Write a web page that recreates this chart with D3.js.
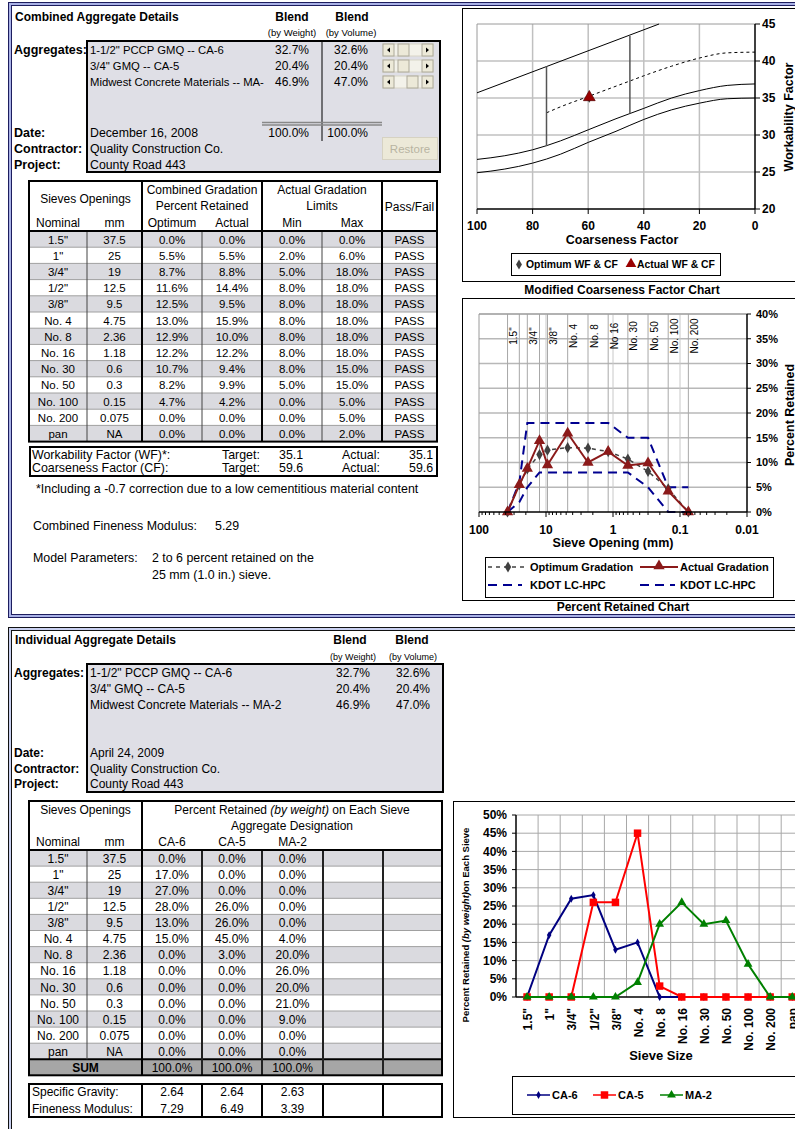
<!DOCTYPE html>
<html><head><meta charset="utf-8">
<script src="https://cdn.jsdelivr.net/npm/d3@7"></script>
<style>body{margin:0;background:#fff}svg{display:block}text{font-family:"Liberation Sans",Arial,sans-serif}</style>
</head><body><svg id="c" width="795" height="1129"></svg>
<script>
// ---------------- DATA ----------------
const aggregateNamesTop = ['1-1/2" PCCP GMQ -- CA-6','3/4" GMQ -- CA-5','Midwest Concrete Materials -- MA-'];
const aggregateNames = ['1-1/2" PCCP GMQ -- CA-6','3/4" GMQ -- CA-5','Midwest Concrete Materials -- MA-2'];
const blendByWeight = [32.7, 20.4, 46.9];
const blendByVolume = [32.6, 20.4, 47.0];
const blendTotals = [100.0, 100.0];
const scrollThumbs = [398, 398, 407];
const headerTop = {date:'December 16, 2008', contractor:'Quality Construction Co.', project:'County Road 443'};
const headerBottom = {date:'April 24, 2009', contractor:'Quality Construction Co.', project:'County Road 443'};

const sieveNominal = ['1.5"','1"','3/4"','1/2"','3/8"','No. 4','No. 8','No. 16','No. 30','No. 50','No. 100','No. 200','pan'];
const sieveMM = ['37.5','25','19','12.5','9.5','4.75','2.36','1.18','0.6','0.3','0.15','0.075','NA'];
const sieveOpening = [37.5,25,19,12.5,9.5,4.75,2.36,1.18,0.6,0.3,0.15,0.075];
const sieveChartLabels = ['1.5"','','3/4"','','3/8"','No. 4','No. 8','No 16','No. 30','No. 50','No. 100','No. 200'];
const optimumRetained = [0.0,5.5,8.7,11.6,12.5,13.0,12.9,12.2,10.7,8.2,4.7,0.0,0.0];
const actualRetained  = [0.0,5.5,8.8,14.4,9.5,15.9,10.0,12.2,9.4,9.9,4.2,0.0,0.0];
const limitMin = [0.0,2.0,5.0,8.0,8.0,8.0,8.0,8.0,8.0,5.0,0.0,0.0,0.0];
const limitMax = [0.0,6.0,18.0,18.0,18.0,18.0,18.0,18.0,15.0,15.0,5.0,5.0,2.0];
const passFail = ['PASS','PASS','PASS','PASS','PASS','PASS','PASS','PASS','PASS','PASS','PASS','PASS','PASS'];

const wfTarget = 35.1, wfActual = 35.1, cfTarget = 59.6, cfActual = 59.6;
const combinedFM = '5.29';

const aggDesignations = ['CA-6','CA-5','MA-2'];
const ca6 = [0,17,27,28,13,15,0,0,0,0,0,0,0];
const ca5 = [0,0,0,26,26,45,3,0,0,0,0,0,0];
const ma2 = [0,0,0,0,0,4,20,26,20,21,9,0,0];
const aggSums = [100.0,100.0,100.0];
const specificGravity = ['2.64','2.64','2.63'];
const finenessModulus = ['7.29','6.49','3.39'];

// Modified coarseness factor chart
const cfPoints = [100,90,80,70,60,50,40,30,20,10,0];
const zoneBoundA = [26.7,27.2,28.0,29.2,30.7,32.2,33.6,35.0,36.0,36.7,36.9];
const zoneBoundB = [24.9,25.4,26.2,27.4,29.0,30.5,32.1,33.4,34.3,34.9,35.0];
const zoneUpperCF = [100,34.5], zoneUpperWF = [35.7,45.0];
const trendCF = [75,70,60,50,45,40,30,20,10,0];
const trendWF = [33.0,33.8,35.2,36.6,37.3,38.0,39.3,40.4,41.1,41.2];
const dividerCF = [75,45], dividerLo = [28.5,32.9], dividerHi = [39.3,43.4];
const cfTicks = [100,80,60,40,20,0];
const wfTicks = [20,25,30,35,40,45];
const prTicks = [0,5,10,15,20,25,30,35,40];
const logTicks = [100,10,1,0.1,0.01];
const indTicks = [0,5,10,15,20,25,30,35,40,45,50];

// ---------------- HELPERS ----------------
const svg = d3.select('#c');
function T(x,y,s,o={}){
  const t = (o.g||svg).append('text').attr('x',x).attr('y',y).attr('dy','0.35em').text(s)
    .attr('font-size',o.size||11).attr('text-anchor',o.anchor||'start').attr('fill',o.fill||'#000');
  if(o.bold) t.attr('font-weight','bold');
  if(o.italic) t.attr('font-style','italic');
  if(o.rot!==undefined) t.attr('transform',`rotate(${o.rot},${x},${y})`);
  return t;
}
function L(x1,y1,x2,y2,c='#000',w=1,dash=null,g=svg){
  const l=g.append('line').attr('x1',x1).attr('y1',y1).attr('x2',x2).attr('y2',y2).attr('stroke',c).attr('stroke-width',w);
  if(dash) l.attr('stroke-dasharray',dash); return l;
}
function R(x,y,w,h,fill='none',stroke=null,sw=1,g=svg){
  const r=g.append('rect').attr('x',x).attr('y',y).attr('width',w).attr('height',h).attr('fill',fill);
  if(stroke) r.attr('stroke',stroke).attr('stroke-width',sw); return r;
}
const pct = v => v.toFixed(1)+'%';

// ---------------- PANEL FRAMES ----------------
R(10,4,900,612,'none','#a9b1e6',3);
R(8.5,2.5,900,615,'none','#1d1d5e',1);
R(11.5,5.5,900,609,'none','#1d1d5e',1);
R(10,629,900,600,'none','#c9d0f0',2);
R(8.5,627.5,900,620,'none','#111',1);
R(11.5,630.5,900,620,'none','#111',1);

// ---------------- TOP LEFT ----------------
T(15,17,'Combined Aggregate Details',{bold:true,size:12});
T(292,17,'Blend',{bold:true,size:12,anchor:'middle'});
T(352,17,'Blend',{bold:true,size:12,anchor:'middle'});
T(292,33,'(by Weight)',{size:9.5,anchor:'middle'});
T(351,33,'(by Volume)',{size:9.5,anchor:'middle'});
R(87,41,353,131,'#dfdfe6','#000',2);
T(14,50,'Aggregates:',{bold:true,size:12.5});
T(14,133,'Date:',{bold:true,size:12.5});
T(14,149,'Contractor:',{bold:true,size:12.5});
T(14,165,'Project:',{bold:true,size:12.5});
aggregateNamesTop.forEach((n,i)=>{
  const y=50+i*16;
  T(90,y,n,{size:11.3});
  T(309,y,pct(blendByWeight[i]),{size:12,anchor:'end'});
  T(368,y,pct(blendByVolume[i]),{size:12,anchor:'end'});
  const sy=y-6, sx=383;
  R(sx,sy,50,12,'#f3f2ea','#d8d5c6',1);
  R(sx,sy,11,12,'#ece9d8','#aca899',1);
  R(sx+39,sy,11,12,'#ece9d8','#aca899',1);
  svg.append('path').attr('d',`M${sx+4},${sy+6}L${sx+7},${sy+3.5}L${sx+7},${sy+8.5}Z`).attr('fill','#000');
  svg.append('path').attr('d',`M${sx+46},${sy+6}L${sx+43},${sy+3.5}L${sx+43},${sy+8.5}Z`).attr('fill','#000');
  R(scrollThumbs[i],sy,11,12,'#ece9d8','#aca899',1);
});
L(322,41,322,141,'#000',1);
L(262,122.5,382,122.5,'#888',1.5);
L(262,125,382,125,'#888',1.5);
T(309,133,pct(blendTotals[0]),{size:12,anchor:'end'});
T(368,133,pct(blendTotals[1]),{size:12,anchor:'end'});
T(90,133,headerTop.date,{size:12.3});
T(90,149,headerTop.contractor,{size:12.3});
T(90,165,headerTop.project,{size:12.3});
R(382.5,137.5,55,22,'#ece9d8','#d6d2c2',1);
T(410,148.5,'Restore',{size:11.5,anchor:'middle',fill:'#b8b4a2'});

// Table 1
const t1x=[29,87,142,202,262,322,382,437];
const t1y0=181, t1hb=231, t1rh=16.2;
sieveNominal.forEach((s,i)=>{
  const y=t1hb+i*t1rh;
  if(i%2===0) R(29,y,408,t1rh,'#dadadf');
  if(i>0) L(29,y,437,y,'#a0a0a0',1);
  const cy=y+t1rh/2+0.5;
  const cells=[s,sieveMM[i],pct(optimumRetained[i]),pct(actualRetained[i]),pct(limitMin[i]),pct(limitMax[i]),passFail[i]];
  cells.forEach((c,j)=>T((t1x[j]+t1x[j+1])/2,cy,c,{anchor:'middle',size:11.5}));
});
const t1bot=t1hb+13*t1rh;
[87,202,322].forEach(x=>L(x,t1hb,x,t1bot,'#444',1));
[142,262,382].forEach(x=>L(x,t1y0,x,t1bot,'#000',2));
L(29,t1hb,437,t1hb,'#000',2);
R(29,t1y0,408,t1bot-t1y0,'none','#000',2);
const hs=12;
T(85.5,199,'Sieves Openings',{anchor:'middle',size:hs});
T(58,223,'Nominal',{anchor:'middle',size:hs});
T(114.5,223,'mm',{anchor:'middle',size:hs});
T(202,190,'Combined Gradation',{anchor:'middle',size:hs});
T(202,206,'Percent Retained',{anchor:'middle',size:hs});
T(172,223,'Optimum',{anchor:'middle',size:hs});
T(232,223,'Actual',{anchor:'middle',size:hs});
T(322,190,'Actual Gradation',{anchor:'middle',size:hs});
T(322,206,'Limits',{anchor:'middle',size:hs});
T(292,223,'Min',{anchor:'middle',size:hs});
T(352,223,'Max',{anchor:'middle',size:hs});
T(409.5,207,'Pass/Fail',{anchor:'middle',size:hs});

// WF/CF box
const fs=12.4;
R(30,447,407,29,'none','#000',2);
T(32,455,'Workability Factor (WF)*:',{size:fs});
T(32,468,'Coarseness Factor (CF):',{size:fs});
T(222,455,'Target:',{size:fs}); T(279,455,wfTarget.toFixed(1),{size:fs});
T(342,455,'Actual:',{size:fs}); T(409,455,wfActual.toFixed(1),{size:fs});
T(222,468,'Target:',{size:fs}); T(279,468,cfTarget.toFixed(1),{size:fs});
T(342,468,'Actual:',{size:fs}); T(409,468,cfActual.toFixed(1),{size:fs});
T(36,489,'*Including a -0.7 correction due to a low cementitious material content',{size:fs});
T(33,526,'Combined Fineness Modulus:',{size:fs});
T(215,526,combinedFM,{size:fs});
T(33,558,'Model Parameters:',{size:fs});
T(152,558,'2 to 6 percent retained on the',{size:fs});
T(152,575,'25 mm (1.0 in.) sieve.',{size:fs});

// ---------------- MCF CHART ----------------
R(462.5,8.5,400,273,'#fff','#000',1);
const xCF=d3.scaleLinear().domain([100,0]).range([477,755]);
const yWF=d3.scaleLinear().domain([20,45]).range([209,24]);
const g1=svg.append('g');
[80,60,40,20].forEach(v=>L(xCF(v),24,xCF(v),209,'#c0c0c0',1.5,null,g1));
[25,30,35,40].forEach(v=>L(477,yWF(v),755,yWF(v),'#c0c0c0',1.5,null,g1));
L(477,24,755,24,'#9a9a9a',1,null,g1);
L(477,24,477,209,'#9a9a9a',1,null,g1);
const ln1=d3.line().x(d=>xCF(d[0])).y(d=>yWF(d[1])).curve(d3.curveMonotoneX);
g1.append('path').attr('d',ln1(zoneUpperCF.map((c,i)=>[c,zoneUpperWF[i]]))).attr('fill','none').attr('stroke','#000').attr('stroke-width',1);
g1.append('path').attr('d',ln1(cfPoints.map((c,i)=>[c,zoneBoundA[i]]))).attr('fill','none').attr('stroke','#000').attr('stroke-width',1);
g1.append('path').attr('d',ln1(cfPoints.map((c,i)=>[c,zoneBoundB[i]]))).attr('fill','none').attr('stroke','#000').attr('stroke-width',1);
g1.append('path').attr('d',ln1(trendCF.map((c,i)=>[c,trendWF[i]]))).attr('fill','none').attr('stroke','#000').attr('stroke-width',1).attr('stroke-dasharray','3,3');
dividerCF.forEach((c,i)=>L(xCF(c),yWF(dividerLo[i]),xCF(c),yWF(dividerHi[i]),'#555',1.5,null,g1));
g1.append('path').attr('d',d3.symbol().type(d3.symbolDiamond).size(36)()).attr('transform',`translate(${xCF(cfTarget)},${yWF(wfTarget)})`).attr('fill','#404040');
g1.append('path').attr('d',d3.symbol().type(d3.symbolTriangle).size(60)()).attr('transform',`translate(${xCF(cfActual)},${yWF(wfActual)})`).attr('fill','#990000').attr('stroke','#550000').attr('stroke-width',0.7);
L(755,24,755,209,'#000',1.5,null,g1);
L(477,209,755,209,'#000',1.5,null,g1);
wfTicks.forEach(v=>{L(755,yWF(v),760,yWF(v),'#000',1,null,g1);T(762,yWF(v),String(v),{bold:true,size:12});});
cfTicks.forEach(v=>{L(xCF(v),209,xCF(v),214,'#000',1,null,g1);T(xCF(v),226,String(v),{bold:true,size:12,anchor:'middle'});});
T(622,240,'Coarseness Factor',{bold:true,size:12.5,anchor:'middle'});
T(789,117,'Workability Factor',{bold:true,size:12.5,anchor:'middle',rot:-90});
R(511.5,253.5,209,22,'#fff','#000',1);
svg.append('path').attr('d',d3.symbol().type(d3.symbolDiamond).size(30)()).attr('transform','translate(519,264.5)').attr('fill','#404040');
T(526,264.5,'Optimum WF & CF',{bold:true,size:10.4});
svg.append('path').attr('d',d3.symbol().type(d3.symbolTriangle).size(50)()).attr('transform','translate(631,264)').attr('fill','#990000');
T(637,264.5,'Actual WF & CF',{bold:true,size:10.4});
T(622,290,'Modified Coarseness Factor Chart',{bold:true,size:12,anchor:'middle'});

// ---------------- PERCENT RETAINED CHART ----------------
R(462.5,298.5,400,302,'#fff','#000',1);
const xS=d3.scaleLog().domain([100,0.01]).range([479,747]);
const yP=d3.scaleLinear().domain([0,40]).range([512,314]);
const g2=svg.append('g');
prTicks.slice(1).forEach(v=>L(479,yP(v),747,yP(v),'#b8b8b8',1.5,null,g2));
sieveOpening.forEach(v=>L(xS(v),314,xS(v),512,'#a8a8a8',1,null,g2));
[10,1,0.1].forEach(v=>L(xS(v),314,xS(v),512,'#c8c8c8',1,null,g2));
L(479,314,747,314,'#9a9a9a',1,null,g2);
L(479,314,479,512,'#9a9a9a',1,null,g2);
sieveChartLabels.forEach((s,i)=>{ if(s) T(xS(sieveOpening[i])+6,336,s,{size:10,anchor:'middle',rot:-90}); });
const ln2=d3.line().x(d=>xS(d[0])).y(d=>yP(d[1]));
const pts=(arr)=>sieveOpening.map((v,i)=>[v,arr[i]]);
g2.append('path').attr('d',ln2(pts(limitMax))).attr('fill','none').attr('stroke','#000090').attr('stroke-width',2).attr('stroke-dasharray','9,6');
g2.append('path').attr('d',ln2(pts(limitMin))).attr('fill','none').attr('stroke','#000090').attr('stroke-width',2).attr('stroke-dasharray','9,6');
g2.append('path').attr('d',ln2(pts(optimumRetained))).attr('fill','none').attr('stroke','#404040').attr('stroke-width',1.5).attr('stroke-dasharray','4,4');
g2.append('path').attr('d',ln2(pts(actualRetained))).attr('fill','none').attr('stroke','#8b1a1a').attr('stroke-width',2);
pts(optimumRetained).forEach(d=>g2.append('path').attr('d',d3.symbol().type(d3.symbolDiamond).size(36)()).attr('transform',`translate(${xS(d[0])},${yP(d[1])})`).attr('fill','#404040'));
pts(actualRetained).forEach(d=>g2.append('path').attr('d',d3.symbol().type(d3.symbolTriangle).size(55)()).attr('transform',`translate(${xS(d[0])},${yP(d[1])})`).attr('fill','#8b1a1a'));
L(747,314,747,512,'#000',1.5,null,g2);
L(479,512,747,512,'#000',1.5,null,g2);
prTicks.forEach(v=>{L(747,yP(v),751,yP(v),'#000',1,null,g2);T(756,yP(v),v+'%',{bold:true,size:11});});
[100,10,1,0.1].forEach(d=>{[2,3,4,5,6,7,8,9].forEach(m=>{const v=d/10*m; L(xS(v),512,xS(v),515,'#000',1,null,g2);});});
logTicks.forEach(v=>{L(xS(v),512,xS(v),517,'#000',1,null,g2);T(xS(v),530,String(v),{bold:true,size:12,anchor:'middle'});});
T(613,543,'Sieve Opening (mm)',{bold:true,size:12.5,anchor:'middle'});
T(790,415,'Percent Retained',{bold:true,size:12.5,anchor:'middle',rot:-90});
R(485.5,557.5,288,40,'#fff','#000',1);
L(488,567,527,567,'#404040',1.5,'4,4');
svg.append('path').attr('d',d3.symbol().type(d3.symbolDiamond).size(36)()).attr('transform','translate(508,567)').attr('fill','#404040');
T(530,567,'Optimum Gradation',{bold:true,size:11});
L(640,567,678,567,'#8b1a1a',2);
svg.append('path').attr('d',d3.symbol().type(d3.symbolTriangle).size(55)()).attr('transform','translate(659,566)').attr('fill','#8b1a1a');
T(680,567,'Actual Gradation',{bold:true,size:11});
L(488,585,522,585,'#000090',2,'9,6');
T(530,585,'KDOT LC-HPC',{bold:true,size:11});
L(640,585,675,585,'#000090',2,'9,6');
T(680,585,'KDOT LC-HPC',{bold:true,size:11});
T(623,607,'Percent Retained Chart',{bold:true,size:12,anchor:'middle'});

// ---------------- BOTTOM PANEL ----------------
T(15,640,'Individual Aggregate Details',{bold:true,size:12});
T(350,640,'Blend',{bold:true,size:12,anchor:'middle'});
T(412,640,'Blend',{bold:true,size:12,anchor:'middle'});
T(353,657,'(by Weight)',{size:9,anchor:'middle'});
T(413,657,'(by Volume)',{size:9,anchor:'middle'});
R(87,664,356,128,'#dfdfe6','#000',2);
T(14,673,'Aggregates:',{bold:true,size:12});
T(14,753,'Date:',{bold:true,size:12});
T(14,769,'Contractor:',{bold:true,size:12});
T(14,784,'Project:',{bold:true,size:12});
aggregateNames.forEach((n,i)=>{
  const y=673+i*16;
  T(90,y,n,{size:12});
  T(370,y,pct(blendByWeight[i]),{size:12,anchor:'end'});
  T(430,y,pct(blendByVolume[i]),{size:12,anchor:'end'});
});
T(90,753,headerBottom.date,{size:12});
T(90,769,headerBottom.contractor,{size:12});
T(90,784,headerBottom.project,{size:12});

// Table 2
const t2x=[29,87,142,202,262,323,383,442];
const t2y0=801, t2hb=850, t2rh=16.1;
sieveNominal.forEach((s,i)=>{
  const y=t2hb+i*t2rh;
  if(i%2===0) R(29,y,413,t2rh,'#dadadf');
  if(i>0) L(29,y,442,y,'#a0a0a0',1);
  const cy=y+t2rh/2+0.5;
  const cells=[s,sieveMM[i],pct(ca6[i]),pct(ca5[i]),pct(ma2[i])];
  cells.forEach((c,j)=>T((t2x[j]+t2x[j+1])/2,cy,c,{anchor:'middle',size:12}));
});
const t2sum=t2hb+13*t2rh, t2bot=t2sum+16;
R(29,t2sum,413,16,'#a6a6a6');
T(85.5,t2sum+8.5,'SUM',{bold:true,size:12,anchor:'middle'});
aggSums.forEach((v,j)=>T((t2x[j+2]+t2x[j+3])/2,t2sum+8.5,pct(v),{anchor:'middle',size:12}));
L(29,t2sum,442,t2sum,'#000',2);
L(87,t2hb,87,t2sum,'#444',1);
[202,262,323,383].forEach(x=>L(x,t2hb,x,t2bot,'#222',2));
L(142,t2y0,142,t2bot,'#000',2);
L(29,t2hb,442,t2hb,'#000',2);
R(29,t2y0,413,t2bot-t2y0,'none','#000',2);
T(85.5,810,'Sieves Openings',{anchor:'middle',size:12});
T(58,842,'Nominal',{anchor:'middle',size:12});
T(114.5,842,'mm',{anchor:'middle',size:12});
const hdr=svg.append('text').attr('x',292).attr('y',810).attr('dy','0.35em').attr('text-anchor','middle').attr('font-size',12);
hdr.append('tspan').text('Percent Retained ');
hdr.append('tspan').attr('font-style','italic').text('(by weight)');
hdr.append('tspan').text('  on Each Sieve');
T(292,826,'Aggregate Designation',{anchor:'middle',size:12});
aggDesignations.forEach((d,j)=>T((t2x[j+2]+t2x[j+3])/2,842,d,{anchor:'middle',size:12}));

// SG / FM table
R(29,1084,413,33,'none','#000',2);
[142,202,262,323,383].forEach(x=>L(x,1084,x,1117,'#000',2));
T(32,1092,'Specific Gravity:',{size:12});
T(32,1109,'Fineness Modulus:',{size:12});
specificGravity.forEach((v,j)=>T((t2x[j+2]+t2x[j+3])/2,1092,v,{anchor:'middle',size:12}));
finenessModulus.forEach((v,j)=>T((t2x[j+2]+t2x[j+3])/2,1109,v,{anchor:'middle',size:12}));

// ---------------- INDIVIDUAL CHART ----------------
R(453.5,801.5,400,316,'#fff','#000',1);
const xB=d3.scaleBand().domain(sieveNominal).range([516,516+13*22.1]);
const yB=d3.scaleLinear().domain([0,50]).range([997,815]);
const g3=svg.append('g');
indTicks.slice(1).forEach(v=>L(516,yB(v),804,yB(v),'#a8a8a8',1,null,g3));
sieveNominal.forEach((s,i)=>{ if(i>0) L(xB(s),815,xB(s),997,'#a8a8a8',1,null,g3); });
L(804,815,804,997,'#a8a8a8',1,null,g3);
L(516,997,804,997,'#000',1.5,null,g3);
L(516,815,516,997,'#000',1.5,null,g3);
indTicks.forEach(v=>{L(512,yB(v),516,yB(v),'#000',1,null,g3);T(507,yB(v),v+'%',{bold:true,size:12,anchor:'end'});});
const cx=s=>xB(s)+xB.bandwidth()/2;
const ln3=d3.line().x(d=>cx(d[0])).y(d=>yB(d[1]));
const series=[
  {vals:ca6,color:'#000080',sym:d3.symbolDiamond,size:18},
  {vals:ca5,color:'#ff0000',sym:d3.symbolSquare,size:56},
  {vals:ma2,color:'#008000',sym:d3.symbolTriangle,size:34}];
series.forEach(se=>{
  const p=sieveNominal.map((s,i)=>[s,se.vals[i]]);
  g3.append('path').attr('d',ln3(p)).attr('fill','none').attr('stroke',se.color).attr('stroke-width',2);
  p.forEach(d=>g3.append('path').attr('d',d3.symbol().type(se.sym).size(se.size)()).attr('transform',`translate(${cx(d[0])},${yB(d[1])})`).attr('fill',se.color));
});
sieveNominal.forEach(s=>{
  svg.append('text').attr('transform',`translate(${cx(s)+1},1008) rotate(-90)`).attr('dy','0.35em').attr('text-anchor','end')
    .attr('font-size',12).attr('font-weight','bold').text(s);
});
T(661,1055,'Sieve Size',{bold:true,size:13,anchor:'middle'});
const yt=svg.append('text').attr('transform','translate(466,925) rotate(-90)').attr('dy','0.35em').attr('text-anchor','middle').attr('font-size',9.5).attr('font-weight','bold');
yt.append('tspan').text('Percent Retained ');
yt.append('tspan').attr('font-style','italic').text('(by weight)');
yt.append('tspan').text('on Each Sieve');
R(512.5,1076.5,300,38,'#fff','#000',1);
const legX=[527,593,660];
series.forEach((se,i)=>{
  L(legX[i],1095,legX[i]+23,1095,se.color,1.5);
  svg.append('path').attr('d',d3.symbol().type(se.sym).size(se.size)()).attr('transform',`translate(${legX[i]+11.5},1095)`).attr('fill',se.color);
  T(legX[i]+25,1095,aggDesignations[i],{bold:true,size:11});
});
</script></body></html>
